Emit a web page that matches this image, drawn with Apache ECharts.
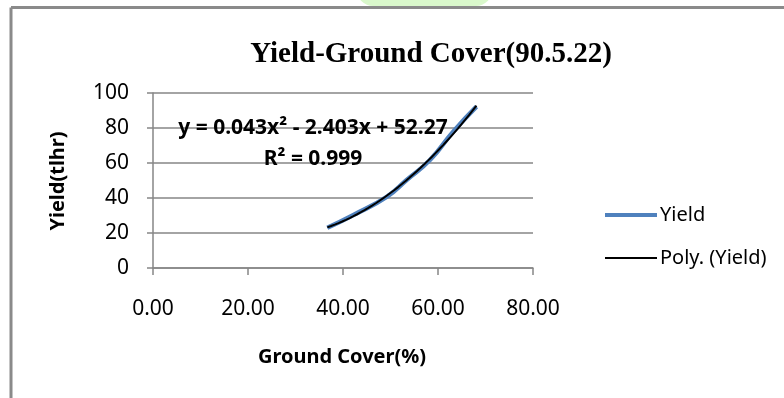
<!DOCTYPE html>
<html>
<head>
<meta charset="utf-8">
<script src="https://cdn.jsdelivr.net/npm/echarts@6/dist/echarts.min.js"></script>
<style>
  html, body { margin: 0; padding: 0; background: #fff; }
  #chart { width: 784px; height: 398px; }
</style>
</head>
<body>
<div id="chart"></div>
<script>
// Measured yield against ground cover
const groundCover = [36.7, 42.2, 49.2, 53.4, 58.3, 63.2, 68.1];
const yieldValues = [23.0, 30.3, 40.7, 50.3, 61.7, 77.9, 92.2];

// Trendline annotation
const trendLabel = 'y = 0.043x² - 2.403x + 52.27';
const r2Label = 'R² = 0.999';

const xTicks = [0, 20, 40, 60, 80];
const yTicks = [0, 20, 40, 60, 80, 100];

// Least-squares second-order polynomial through the Yield series
function quadFit(xs, ys) {
  const S = [0, 0, 0, 0, 0], T = [0, 0, 0];
  xs.forEach((x, i) => {
    for (let k = 0; k < 5; k++) S[k] += Math.pow(x, k);
    for (let k = 0; k < 3; k++) T[k] += ys[i] * Math.pow(x, k);
  });
  const A = [[S[0], S[1], S[2], T[0]], [S[1], S[2], S[3], T[1]], [S[2], S[3], S[4], T[2]]];
  for (let c = 0; c < 3; c++) {
    for (let r = c + 1; r < 3; r++) {
      const f = A[r][c] / A[c][c];
      for (let k = c; k < 4; k++) A[r][k] -= f * A[c][k];
    }
  }
  const b = [0, 0, 0];
  for (let r = 2; r >= 0; r--) {
    let s = A[r][3];
    for (let k = r + 1; k < 3; k++) s -= A[r][k] * b[k];
    b[r] = s / A[r][r];
  }
  return b;
}
const coef = quadFit(groundCover, yieldValues);
const trendPoints = [];
const x0 = groundCover[0], x1 = groundCover[groundCover.length - 1];
for (let i = 0; i <= 40; i++) {
  const x = x0 + (x1 - x0) * i / 40;
  trendPoints.push([x, coef[0] + coef[1] * x + coef[2] * x * x]);
}

const sans = '"Noto Sans", "Open Sans", sans-serif';
const axisGray = '#868686';
const blue = '#4f81bd';

const chart = echarts.init(document.getElementById('chart'), null, { renderer: 'canvas' });
chart.setOption({
  animation: false,
  backgroundColor: '#fff',
  title: {
    text: 'Yield-Ground Cover(90.5.22)',
    left: 426, top: 35, textAlign: 'center',
    textStyle: { fontFamily: '"Liberation Serif", serif', fontWeight: 'bold', fontSize: 29, color: '#000' }
  },
  grid: { left: 153, right: 251, top: 93, bottom: 130 },
  legend: {
    orient: 'vertical', left: 598, top: 200, itemWidth: 52, itemHeight: 12, itemGap: 23,
    itemStyle: { opacity: 0 },
    textStyle: { fontFamily: sans, fontSize: 20, color: '#000', padding: [0, 0, 0, -2] },
    data: [
      { name: 'Yield', lineStyle: { color: blue, width: 4 } },
      { name: 'Poly. (Yield)', lineStyle: { color: '#000', width: 2 } }
    ]
  },
  xAxis: {
    type: 'value', min: xTicks[0], max: xTicks[xTicks.length - 1], interval: 20,
    axisLine: { show: true, lineStyle: { color: axisGray, width: 1.5 } },
    axisTick: { show: true, length: 7, lineStyle: { color: axisGray, width: 1.5 } },
    axisLabel: { margin: 31, fontFamily: sans, fontSize: 21, color: '#000', formatter: v => v.toFixed(2) },
    splitLine: { show: false }
  },
  yAxis: {
    type: 'value', min: yTicks[0], max: yTicks[yTicks.length - 1], interval: 20,
    axisLine: { show: true, lineStyle: { color: axisGray, width: 1.5 } },
    axisTick: { show: true, length: 6, lineStyle: { color: axisGray, width: 1.5 } },
    axisLabel: { margin: 24, fontFamily: sans, fontSize: 21, color: '#000' },
    splitLine: { show: true, lineStyle: { color: axisGray, width: 1.5 } }
  },
  series: [
    {
      name: 'Yield', type: 'line', smooth: 0.5, symbol: 'none',
      lineStyle: { color: blue, width: 4.5 }, itemStyle: { color: blue },
      data: groundCover.map((x, i) => [x, yieldValues[i]]), z: 2
    },
    {
      name: 'Poly. (Yield)', type: 'line', symbol: 'none',
      lineStyle: { color: '#000', width: 2 }, itemStyle: { color: '#000' },
      data: trendPoints, z: 3
    }
  ],
  graphic: [
    { type: 'rect', shape: { x: 357, y: -10, width: 135, height: 16, r: [0, 0, 30, 30] }, style: { fill: '#d9f8cb' }, z: -1 },
    { type: 'line', shape: { x1: 11, y1: 7.5, x2: 784, y2: 7.5 }, style: { stroke: '#8a8a8a', lineWidth: 3 } },
    { type: 'line', shape: { x1: 11, y1: 7.5, x2: 11, y2: 398 }, style: { stroke: '#8a8a8a', lineWidth: 3 } },
    {
      type: 'text', x: 58, y: 181, rotation: Math.PI / 2,
      style: { text: 'Yield(tlhr)', align: 'center', verticalAlign: 'middle', font: 'bold 20px ' + sans, fill: '#000' }
    },
    {
      type: 'text', x: 342, y: 357,
      style: { text: 'Ground Cover(%)', align: 'center', verticalAlign: 'middle', font: 'bold 20px ' + sans, fill: '#000' }
    },
    {
      type: 'text', x: 313, y: 128, z: 10,
      style: { text: trendLabel, align: 'center', verticalAlign: 'middle', font: 'bold 21px ' + sans, fill: '#000' }
    },
    {
      type: 'text', x: 313, y: 159, z: 10,
      style: { text: r2Label, align: 'center', verticalAlign: 'middle', font: 'bold 21px ' + sans, fill: '#000' }
    }
  ]
});
</script>
</body>
</html>
